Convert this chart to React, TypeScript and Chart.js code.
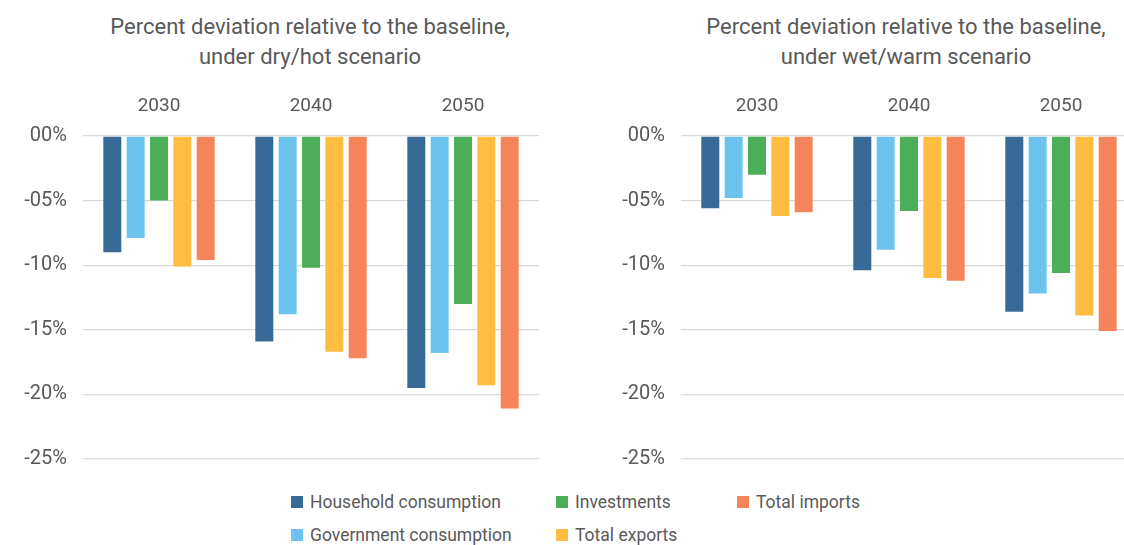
import React, { useEffect, useRef } from "react";
import { Chart, registerables } from "chart.js";

Chart.register(...registerables);

const categories = ["2030", "2040", "2050"];
const seriesNames = [
  "Household consumption",
  "Government consumption",
  "Investments",
  "Total exports",
  "Total imports",
];
const seriesColors = ["#386A97", "#6CC3EE", "#4DAE5A", "#FEBD40", "#F6845B"];

// dry/hot scenario
const dryHousehold = [-9.0, -15.9, -19.5];
const dryGovernment = [-7.9, -13.8, -16.8];
const dryInvestments = [-5.0, -10.2, -13.0];
const dryExports = [-10.1, -16.7, -19.3];
const dryImports = [-9.6, -17.2, -21.1];

// wet/warm scenario
const wetHousehold = [-5.6, -10.4, -13.6];
const wetGovernment = [-4.8, -8.8, -12.2];
const wetInvestments = [-3.0, -5.8, -10.6];
const wetExports = [-6.2, -11.0, -13.9];
const wetImports = [-5.9, -11.2, -15.1];

const yTicks = [-25, -20, -15, -10, -5, 0];

const dryTitle = ["Percent deviation relative to the baseline,", "under dry/hot scenario"];
const wetTitle = ["Percent deviation relative to the baseline,", "under wet/warm scenario"];

const FONT = "Roboto, 'Noto Sans', sans-serif";
const TEXT = "#595959";

function fmt(v: number) {
  const a = Math.abs(v);
  return (v < 0 ? "-" : "") + String(a).padStart(2, "0") + "%";
}

const CANVAS_W = 560;
const CANVAS_H = 407;

function BarPanel({ series }: { series: number[][] }) {
  const ref = useRef<HTMLCanvasElement | null>(null);
  useEffect(() => {
    if (!ref.current) return;
    const chart = new Chart(ref.current, {
      type: "bar",
      data: {
        labels: categories,
        datasets: series.map((d, i) => ({
          label: seriesNames[i],
          data: d,
          backgroundColor: seriesColors[i],
          borderWidth: 0,
          categoryPercentage: 0.768,
          barPercentage: 0.771,
        })),
      },
      options: {
        animation: false,
        responsive: false,
        maintainAspectRatio: false,
        layout: { padding: { top: 0, right: 21, bottom: 20, left: 0 } },
        plugins: {
          legend: { display: false },
          tooltip: { enabled: false },
          title: { display: false },
        },
        scales: {
          x: {
            position: "top",
            offset: true,
            grid: { display: false, drawTicks: false },
            border: { display: false },
            ticks: {
              padding: 18,
              color: TEXT,
              font: { family: FONT, size: 19 },
              maxRotation: 0,
            },
            afterFit: (s: any) => {
              s.height = 56;
            },
          },
          y: {
            min: -25,
            max: 0,
            afterBuildTicks: (s: any) => {
              s.ticks = yTicks.map((v) => ({ value: v }));
            },
            grid: { color: "#D9D9D9", lineWidth: 1.3, drawTicks: false, tickLength: 0 },
            border: { display: false },
            ticks: {
              padding: 16,
              color: TEXT,
              font: { family: FONT, size: 20 },
              callback: (v: any) => fmt(Number(v)),
            },
            afterFit: (s: any) => {
              s.width = 83;
            },
          },
        },
      },
    });
    return () => chart.destroy();
  }, [series]);
  return (
    <canvas
      ref={ref}
      width={CANVAS_W}
      height={CANVAS_H}
      style={{ width: CANVAS_W, height: CANVAS_H, display: "block" }}
    />
  );
}

const drySeries = [dryHousehold, dryGovernment, dryInvestments, dryExports, dryImports];
const wetSeries = [wetHousehold, wetGovernment, wetInvestments, wetExports, wetImports];

const legendLayout = [
  { idx: 0, x: 291, y: 502 },
  { idx: 2, x: 556, y: 502 },
  { idx: 4, x: 737, y: 502 },
  { idx: 1, x: 291, y: 535 },
  { idx: 3, x: 556, y: 535 },
];

function Title({ lines, cx }: { lines: string[]; cx: number }) {
  return (
    <div
      style={{
        position: "absolute",
        left: cx - 300,
        width: 600,
        top: 12,
        textAlign: "center",
        fontFamily: FONT,
        fontSize: 22,
        lineHeight: "30px",
        color: TEXT,
      }}
    >
      {lines.map((l, i) => (
        <div key={i}>{l}</div>
      ))}
    </div>
  );
}

export default function App() {
  return (
    <div
      style={{
        position: "fixed",
        left: 0,
        top: 0,
        width: 1124,
        height: 545,
        overflow: "hidden",
        background: "#FFFFFF",
      }}
    >
      <Title lines={dryTitle} cx={310} />
      <Title lines={wetTitle} cx={906} />
      <div style={{ position: "absolute", left: 0, top: 80 }}>
        <BarPanel series={drySeries} />
      </div>
      <div style={{ position: "absolute", left: 598, top: 80 }}>
        <BarPanel series={wetSeries} />
      </div>
      {legendLayout.map((it) => (
        <div
          key={it.idx}
          style={{
            position: "absolute",
            left: it.x,
            top: it.y - 12,
            height: 24,
            display: "flex",
            alignItems: "center",
            fontFamily: FONT,
            fontSize: 17.5,
            color: TEXT,
            whiteSpace: "nowrap",
          }}
        >
          <span
            style={{
              display: "inline-block",
              width: 12,
              height: 12,
              background: seriesColors[it.idx],
              marginRight: 7,
            }}
          />
          {seriesNames[it.idx]}
        </div>
      ))}
    </div>
  );
}
